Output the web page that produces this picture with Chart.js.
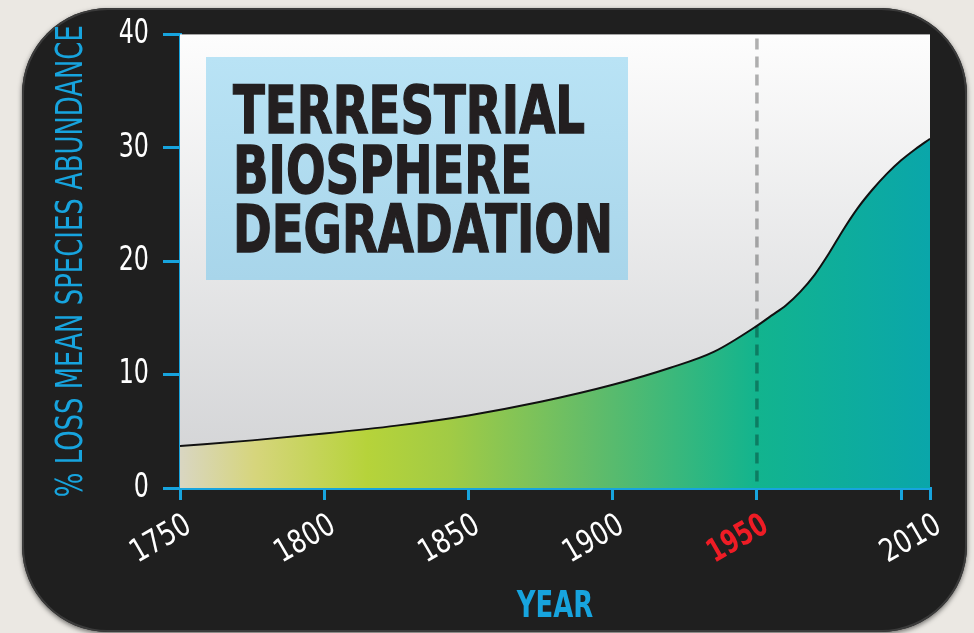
<!DOCTYPE html>
<html>
<head>
<meta charset="utf-8">
<script src="https://cdn.jsdelivr.net/npm/chart.js@4.4.1/dist/chart.umd.min.js"></script>
<style>
  html, body { margin: 0; padding: 0; }
  body { width: 974px; height: 633px; overflow: hidden; background: #ebe8e3; position: relative; }
  #panel {
    position: absolute; left: 22px; top: 8px; width: 945px; height: 624px;
    border-radius: 86px; background: #1f1f1f;
    box-shadow: 0 2px 5px rgba(0,0,0,.55), inset 0 0 0 2px #3b3b3b;
  }
  #c { position: absolute; left: 0; top: 0; }
</style>
</head>
<body>
<div id="panel"></div>
<canvas id="c" width="974" height="633"></canvas>
<script>
/* ── Data ───────────────────────────────────────────── */
const years = [1750, 1775, 1800, 1825, 1850, 1875, 1900, 1920, 1935, 1950, 1955, 1960, 1965, 1970, 1975, 1980, 1985, 1990, 1995, 2000, 2005, 2010];
const loss  = [3.7, 4.2, 4.8, 5.5, 6.4, 7.6, 9.1, 10.6, 12.0, 14.3, 15.2, 16.1, 17.3, 18.8, 20.7, 22.8, 24.7, 26.3, 27.7, 28.9, 29.9, 30.8];
const xTickValues = [1750, 1800, 1850, 1900, 1950, 2000, 2010];
const xTickLabels = ['1750', '1800', '1850', '1900', '1950', '', '2010'];
const yTickValues = [0, 10, 20, 30, 40];
const titleLines  = ['TERRESTRIAL', 'BIOSPHERE', 'DEGRADATION'];
const xTitle = 'YEAR';
const yTitle = '% LOSS MEAN SPECIES ABUNDANCE';
const markYear = 1950;

/* ── Look ───────────────────────────────────────────── */
const BLUE = '#17a4de';
const RED  = '#ee1c25';
const FAM  = "'DejaVu Sans', sans-serif";

function fillGradient(ctx) {
  const area = ctx.chart.chartArea;
  if (!area) return '#5cbd6a';
  const g = ctx.chart.ctx.createLinearGradient(area.left, 0, area.right, 0);
  g.addColorStop(0.00, '#d9d6c2');
  g.addColorStop(0.10, '#d6d57c');
  g.addColorStop(0.25, '#b6d33a');
  g.addColorStop(0.36, '#a1cb45');
  g.addColorStop(0.55, '#62bc69');
  g.addColorStop(0.77, '#12b48e');
  g.addColorStop(1.00, '#0aa6aa');
  return g;
}

/* ── Condensed text (no narrow font installed) ──────── */
const canvas = document.getElementById('c');
const cx = canvas.getContext('2d');
const rawFill = cx.fillText;
let squeezeOn = false;
function squeezeFor(ctx, t) {
  if (t === yTitle) return 472 / ctx.measureText(t).width;
  if (t === xTitle) return 0.7;
  if (/bold/.test(ctx.font)) return 0.72;
  return ctx.font.includes('34px') ? 0.7 : 0.79;
}
cx.fillText = function (t, x, y, w) {
  if (!squeezeOn) return rawFill.call(this, t, x, y, w);
  const k = squeezeFor(this, String(t));
  this.save();
  this.translate(x, y);
  this.scale(k, 1);
  rawFill.call(this, t, 0, 0);
  this.restore();
};

/* ── Plot background + title box ────────────────────── */
const backdrop = {
  id: 'backdrop',
  beforeDraw() { squeezeOn = true; },
  beforeDatasetsDraw(chart) {
    squeezeOn = false;
    const { ctx, chartArea: a } = chart;
    ctx.save();
    const bg = ctx.createLinearGradient(0, a.top, 0, a.bottom);
    bg.addColorStop(0, '#fdfdfd');
    bg.addColorStop(1, '#d1d2d4');
    ctx.fillStyle = bg;
    ctx.fillRect(a.left, a.top, a.right - a.left, a.bottom - a.top);

    // title box
    const bx = 206, by = 57, bw = 422, bh = 223;
    const tb = ctx.createLinearGradient(0, by, 0, by + bh);
    tb.addColorStop(0, '#b9e3f5');
    tb.addColorStop(1, '#a8d5ea');
    ctx.fillStyle = tb;
    ctx.fillRect(bx, by, bw, bh);

    ctx.font = "bold 66px " + FAM;
    ctx.fillStyle = '#231f20';
    ctx.strokeStyle = '#231f20';
    ctx.lineWidth = 1.5;
    ctx.textBaseline = 'alphabetic';
    ctx.textAlign = 'left';
    const sx = 352 / ctx.measureText(titleLines[0]).width;
    titleLines.forEach((t, i) => {
      ctx.save();
      ctx.translate(233, 133 + i * 59.5);
      ctx.scale(sx, 1);
      ctx.fillText(t, 0, 0);
      ctx.strokeText(t, 0, 0);
      ctx.restore();
    });
    ctx.restore();
  },
  afterDatasetsDraw(chart) {
    const { ctx, chartArea: a, scales: { x } } = chart;
    const px = x.getPixelForValue(markYear);
    ctx.save();
    ctx.strokeStyle = 'rgba(0,0,0,0.3)';
    ctx.lineWidth = 3.5;
    ctx.setLineDash([11, 7]);
    ctx.beginPath();
    ctx.moveTo(px, a.top + 4);
    ctx.lineTo(px, a.bottom);
    ctx.stroke();
    ctx.restore();
  }
};

/* ── Chart ──────────────────────────────────────────── */
new Chart(canvas, {
  type: 'line',
  data: {
    datasets: [{
      data: years.map((y, i) => ({ x: y, y: loss[i] })),
      borderColor: '#111',
      borderWidth: 2,
      pointRadius: 0,
      cubicInterpolationMode: 'monotone',
      fill: 'origin',
      backgroundColor: fillGradient
    }]
  },
  options: {
    responsive: false,
    animation: false,
    layout: { padding: { top: 33, right: 44, left: 0, bottom: 0 } },
    plugins: { legend: { display: false }, tooltip: { enabled: false } },
    scales: {
      x: {
        type: 'linear',
        min: 1750, max: 2010,
        afterBuildTicks: s => { s.ticks = xTickValues.map(v => ({ value: v })); },
        afterFit: s => { s.height = 145; },
        border: { color: BLUE, width: 3 },
        grid: { drawOnChartArea: false, color: BLUE, lineWidth: 3, tickLength: 12 },
        ticks: {
          autoSkip: false,
          minRotation: 30, maxRotation: 30,
          labelOffset: 9,
          padding: 7,
          callback: (v, i) => xTickLabels[i],
          color: c => c.tick && c.tick.value === markYear ? RED : '#ffffff',
          font: c => ({ family: FAM, size: 32, weight: c.tick && c.tick.value === markYear ? 'bold' : 'normal' })
        },
        title: {
          display: true, text: xTitle, color: BLUE,
          font: { family: FAM, size: 37, weight: 'bold' },
          padding: { top: 0, bottom: 3 }
        }
      },
      y: {
        min: 0, max: 40,
        afterBuildTicks: s => { s.ticks = yTickValues.map(v => ({ value: v })); },
        afterFit: s => { s.width = 180; },
        border: { color: BLUE, width: 3 },
        grid: { drawOnChartArea: false, color: BLUE, lineWidth: 3, tickLength: 17 },
        ticks: {
          color: '#ffffff', padding: 14,
          font: { family: FAM, size: 34 }
        },
        title: {
          display: true, text: yTitle, color: BLUE,
          font: { family: FAM, size: 37 },
          padding: { top: 50, bottom: 0 }
        }
      }
    }
  },
  plugins: [backdrop]
});
</script>
</body>
</html>
